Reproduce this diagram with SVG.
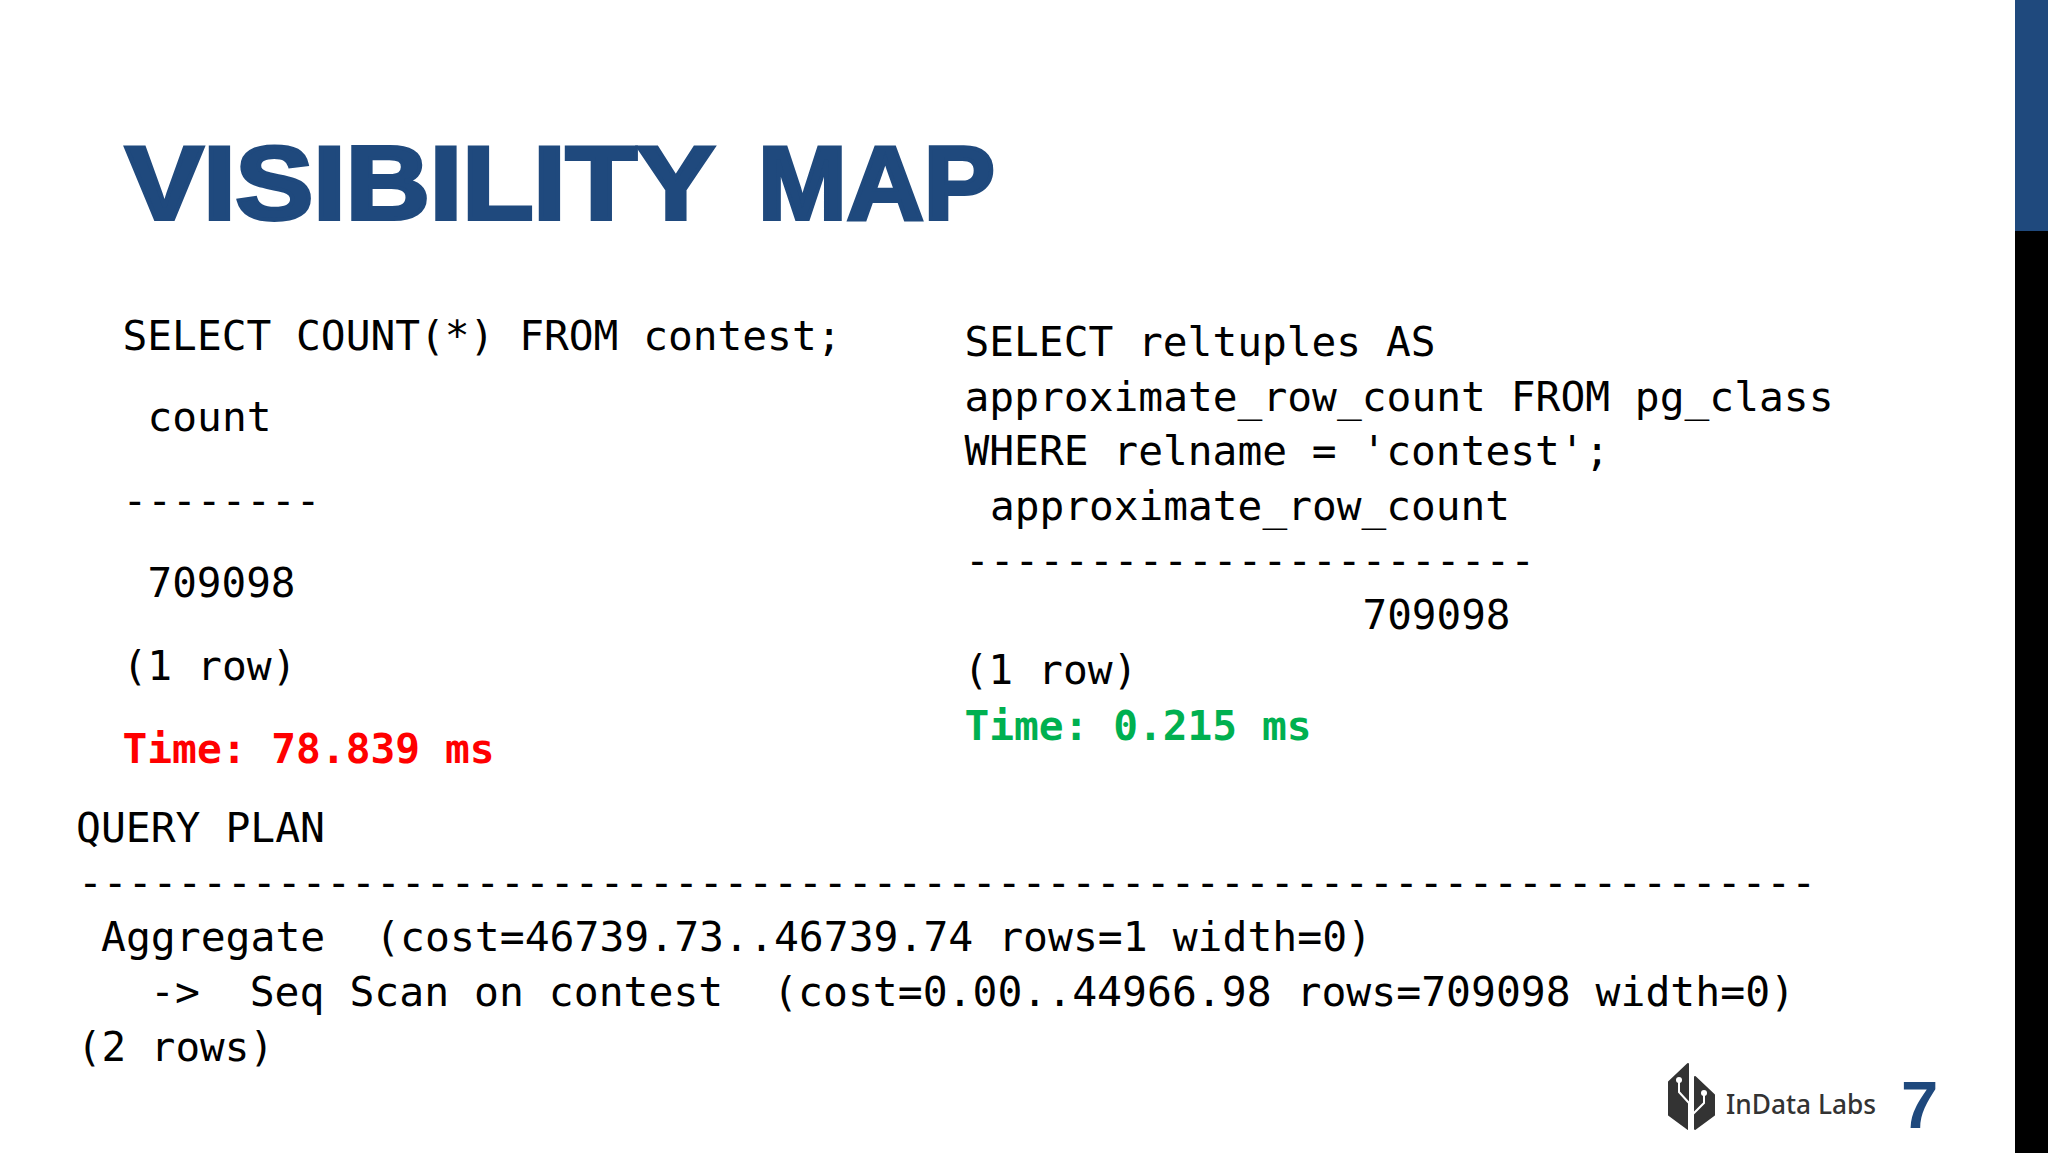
<svg xmlns="http://www.w3.org/2000/svg" width="2048" height="1153" viewBox="0 0 2048 1153">
<style>
.m{font-family:"DejaVu Sans Mono","Liberation Mono",monospace;font-size:41px;fill:#000;white-space:pre}
.b{font-weight:bold}
.t{font-family:"Liberation Sans",Arial,sans-serif;font-weight:bold;fill:#1f497d}
</style>
<rect width="2048" height="1153" fill="#fff"/>
<rect x="2015" y="0" width="33" height="231" fill="#1f497d"/>
<rect x="2015" y="231" width="33" height="922" fill="#000"/>
<text class="t" y="218.5" font-size="103" stroke="#1f497d" stroke-width="4"><tspan x="125.5" textLength="587" lengthAdjust="spacingAndGlyphs">VISIBILITY</tspan> <tspan x="758" textLength="237" lengthAdjust="spacingAndGlyphs">MAP</tspan></text>
<g id="left-query">
<text class="m" x="122.5" y="349.5" textLength="719" lengthAdjust="spacingAndGlyphs">SELECT COUNT(*) FROM contest;</text>
<text class="m" x="147.5" y="431" textLength="124" lengthAdjust="spacingAndGlyphs">count</text>
<text class="m" x="122.5" y="515" textLength="198" lengthAdjust="spacingAndGlyphs">--------</text>
<text class="m" x="147.5" y="597" textLength="148" lengthAdjust="spacingAndGlyphs">709098</text>
<text class="m" x="122.5" y="680" textLength="174" lengthAdjust="spacingAndGlyphs">(1 row)</text>
<text class="m b" x="122.5" y="763" style="fill:#f00" textLength="372" lengthAdjust="spacingAndGlyphs">Time: 78.839 ms</text>
</g>
<g id="right-query">
<text class="m" x="964.5" y="356" textLength="471" lengthAdjust="spacingAndGlyphs">SELECT reltuples AS</text>
<text class="m" x="964.5" y="411" textLength="869" lengthAdjust="spacingAndGlyphs">approximate_row_count FROM pg_class</text>
<text class="m" x="964.5" y="465" textLength="645" lengthAdjust="spacingAndGlyphs">WHERE relname = 'contest';</text>
<text class="m" x="990" y="520" textLength="520" lengthAdjust="spacingAndGlyphs">approximate_row_count</text>
<text class="m" x="965" y="575" textLength="570" lengthAdjust="spacingAndGlyphs">-----------------------</text>
<text class="m" x="1362.5" y="629" textLength="148" lengthAdjust="spacingAndGlyphs">709098</text>
<text class="m" x="963.5" y="684" textLength="174" lengthAdjust="spacingAndGlyphs">(1 row)</text>
<text class="m b" x="964.5" y="739.5" style="fill:#00b050" textLength="347" lengthAdjust="spacingAndGlyphs">Time: 0.215 ms</text>
</g>
<g id="query-plan">
<text class="m" x="76" y="842" textLength="249" lengthAdjust="spacingAndGlyphs">QUERY PLAN</text>
<text class="m" x="78" y="896.5" textLength="1738" lengthAdjust="spacingAndGlyphs">----------------------------------------------------------------------</text>
<text class="m" x="101" y="951" textLength="1271" lengthAdjust="spacingAndGlyphs">Aggregate  (cost=46739.73..46739.74 rows=1 width=0)</text>
<text class="m" x="150" y="1006" textLength="1645" lengthAdjust="spacingAndGlyphs">-&gt;  Seq Scan on contest  (cost=0.00..44966.98 rows=709098 width=0)</text>
<text class="m" x="77" y="1061" textLength="197" lengthAdjust="spacingAndGlyphs">(2 rows)</text>
</g>
<g id="logo">
<path d="M1688 1064 L1669 1082 L1669 1115 L1688 1129 Z" fill="#333" stroke="#333" stroke-width="2" stroke-linejoin="round"/>
<path d="M1695 1077 L1714 1095 L1714 1115 L1695 1129 Z" fill="#333" stroke="#333" stroke-width="2" stroke-linejoin="round"/>
<path d="M1679 1080 V1092 L1689 1103 V1130 M1704 1093 V1103 L1693 1114 V1130" fill="none" stroke="#fff" stroke-width="2"/>
<circle cx="1679" cy="1080" r="3" fill="#fff"/>
<circle cx="1704" cy="1093" r="3" fill="#fff"/>
<text x="1726" y="1114" font-family="Noto Sans,sans-serif" font-size="27" font-weight="500" fill="#333" textLength="150" lengthAdjust="spacingAndGlyphs">InData Labs</text>
</g>
<text id="page-number" class="t" x="1901" y="1128" font-size="67">7</text>
</svg>
